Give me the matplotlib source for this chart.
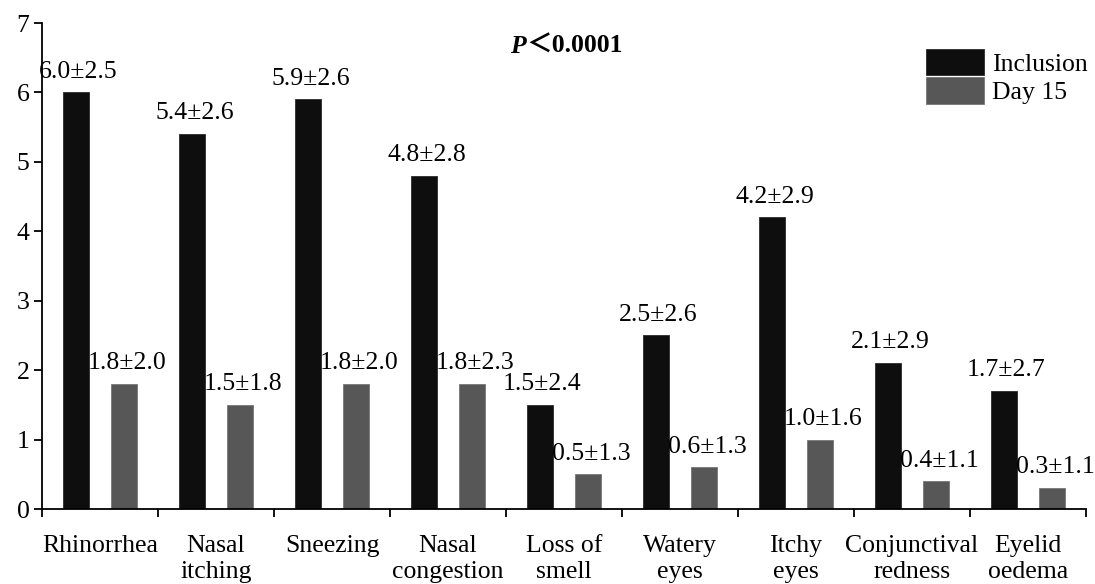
import numpy as np
import matplotlib
matplotlib.use("Agg")
import matplotlib.pyplot as plt
from matplotlib.ticker import FixedLocator

plt.rcParams['font.family'] = ['Liberation Serif', 'DejaVu Serif']

# data
symptoms = ['Rhinorrhea', 'Nasal\nitching', 'Sneezing', 'Nasal\ncongestion', 'Loss of\nsmell',
            'Watery\neyes', 'Itchy\neyes', 'Conjunctival\nredness', 'Eyelid\noedema']
inclusion = [6.0, 5.4, 5.9, 4.8, 1.5, 2.5, 4.2, 2.1, 1.7]
inclusion_sd = [2.5, 2.6, 2.6, 2.8, 2.4, 2.6, 2.9, 2.9, 2.7]
day15 = [1.8, 1.5, 1.8, 1.8, 0.5, 0.6, 1.0, 0.4, 0.3]
day15_sd = [2.0, 1.8, 2.0, 2.3, 1.3, 1.3, 1.6, 1.1, 1.1]

fs = 18.5

fig = plt.figure(figsize=(10.95, 5.84), dpi=100)
ax = fig.add_axes([0.0384, 0.1284, 0.9534, 0.8322])

x = np.arange(len(symptoms))
off = 0.21
w = 0.225
ax.bar(x - off, inclusion, w, color='#0e0e0e', edgecolor='#2a2a2a', linewidth=0.6, label='Inclusion')
ax.bar(x + off, day15, w, color='#575757', edgecolor='#777777', linewidth=0.6, label='Day 15')

for xi, v, s in zip(x, inclusion, inclusion_sd):
    ax.annotate('%.1f±%.1f' % (v, s), (xi - off, v), xytext=(2, 7), textcoords='offset points',
                ha='center', va='bottom', fontsize=fs)
for xi, v, s in zip(x, day15, day15_sd):
    ax.annotate('%.1f±%.1f' % (v, s), (xi + off, v), xytext=(2, 7), textcoords='offset points',
                ha='center', va='bottom', fontsize=fs)

ax.set_xlim(-0.5, len(symptoms) - 0.5)
ax.set_ylim(0, 7)
ax.set_yticks(range(8))
ax.set_xticks(x)
ax.set_xticklabels(symptoms, fontsize=fs, linespacing=1.22, va='top')
ax.xaxis.set_minor_locator(FixedLocator(np.arange(-0.5, len(symptoms), 1.0)))
ax.tick_params(axis='x', which='major', length=0, pad=19)
ax.tick_params(axis='x', which='minor', length=6, width=1.3, direction='out')
ax.tick_params(axis='y', length=6, width=1.3, labelsize=fs, pad=3)

for sp in ['top', 'right']:
    ax.spines[sp].set_visible(False)
for sp in ['left', 'bottom']:
    ax.spines[sp].set_linewidth(1.3)

ax.text(0.4636, 0.952, 'P', transform=ax.transAxes, ha='right', va='center',
        fontsize=fs, fontweight='bold', fontstyle='italic')
ax.text(0.4636, 0.952, '＜0.0001', transform=ax.transAxes, ha='left', va='center',
        fontsize=fs, fontweight='bold', family=['Liberation Serif', 'Noto Sans CJK SC'])

ax.legend(loc='upper right', bbox_to_anchor=(1.016, 0.978), frameon=False, fontsize=fs,
          handlelength=2.25, handleheight=1.2, handletextpad=0.3, labelspacing=0.05,
          borderaxespad=0.2)

fig.savefig('out.png', dpi=100)
